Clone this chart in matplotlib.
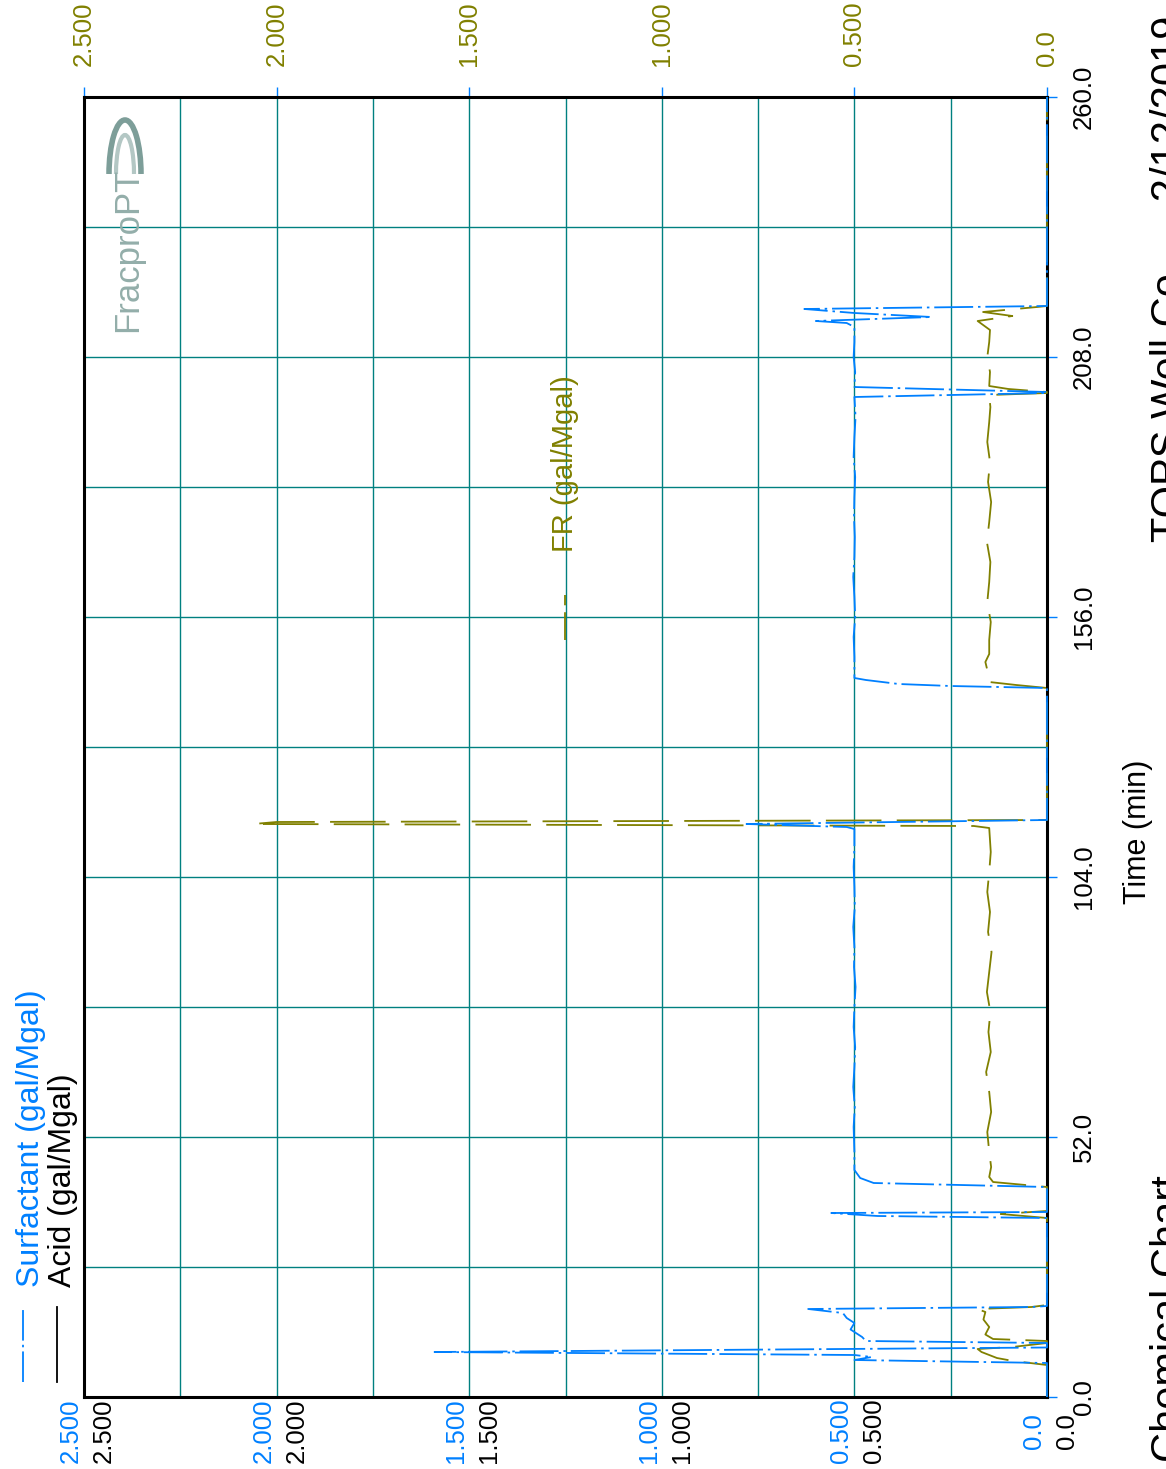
import matplotlib
matplotlib.use("Agg")
import matplotlib.pyplot as plt
import matplotlib.transforms as mtransforms
from matplotlib.lines import Line2D
from matplotlib.patches import Arc

W, H, DPI = 1166, 1469, 100
BLUE, OLIVE, GRID = "#0080ff", "#808000", "#008080"
FONT = ["Liberation Sans Narrow", "Liberation Sans", "DejaVu Sans"]

# Surfactant (gal/Mgal) vs time (min)
surf_t = [0.0, 6.8, 7.4, 8.0, 8.4, 9.0, 9.9, 10.8, 11.2, 12.0, 13.5, 14.8, 15.8, 16.8, 17.6, 18.0, 18.2,
          35.8, 36.2, 36.8, 37.0, 42.0, 42.8, 43.8, 45.4, 47.4, 49.0,
          54, 58, 62, 66, 70, 74, 78, 82, 86, 90, 94, 98, 102, 106, 110, 113.6, 114.0, 114.6, 115.4,
          141.8, 142.2, 142.6, 143.4, 143.8, 148, 152, 156, 160, 164, 168, 172, 176, 180, 184, 188, 192, 196,
          200.0, 200.8, 201.0, 202.0,
          205, 208, 211, 214.0, 214.8, 215.2, 216.0, 216.8, 217.6, 218.2, 260.0]
surf_v = [0.0, 0.0, 0.50, 0.455, 0.50, 1.59, 0.0, 0.0, 0.47, 0.48, 0.51, 0.50, 0.52, 0.53, 0.62, 0.04, 0.0,
          0.0, 0.44, 0.56, 0.0, 0.0, 0.45, 0.485, 0.50, 0.50, 0.50,
          0.502, 0.499, 0.503, 0.50, 0.498, 0.502, 0.50, 0.497, 0.501, 0.50, 0.503, 0.499, 0.50, 0.502, 0.50,
          0.50, 0.52, 0.78, 0.0,
          0.0, 0.25, 0.385, 0.47, 0.50, 0.50, 0.502, 0.498, 0.50, 0.503, 0.50, 0.499, 0.501, 0.50, 0.498,
          0.502, 0.50, 0.497,
          0.50, 0.0, 0.0, 0.50,
          0.498, 0.502, 0.50, 0.50, 0.52, 0.60, 0.30, 0.50, 0.63, 0.0, 0.0]

# FR (gal/Mgal)
fr_t = [0.0, 6.4, 7.2, 7.8, 9.0, 9.6, 10.0, 10.8, 11.2, 11.6, 12.5, 14.0, 15.5, 17.0, 17.6, 18.0, 18.4,
        35.8, 36.6, 37.2, 42.0, 43.0, 44.0, 46.0, 49.0,
        53, 57, 61, 65, 69, 73, 77, 81, 85, 89, 93, 97, 101, 105, 109, 113.8, 114.2, 114.6, 115.0, 115.4,
        141.8, 142.4, 143.0, 145.4, 147.0, 148.6, 151.4, 155, 159, 163, 167, 171, 175, 179, 183, 187, 191, 195,
        198, 200.4, 200.8, 201.0, 201.6, 202.2,
        205, 208, 211, 213.4, 215.2, 216.2, 217.0, 218.0, 218.2, 260.0]
fr_v = [0.0, 0.0, 0.088, 0.13, 0.17, 0.18, 0.09, 0.0, 0.0, 0.14, 0.16, 0.15, 0.165, 0.16, 0.18, 0.04, 0.0,
        0.0, 0.12, 0.0, 0.0, 0.14, 0.15, 0.145, 0.15,
        0.155, 0.145, 0.15, 0.158, 0.146, 0.152, 0.147, 0.156, 0.15, 0.144, 0.153, 0.148, 0.155, 0.15, 0.146,
        0.15, 0.19, 2.06, 2.0, 0.0,
        0.0, 0.08, 0.15, 0.155, 0.16, 0.15, 0.15, 0.146, 0.155, 0.15, 0.147, 0.156, 0.15, 0.145, 0.153,
        0.148, 0.155, 0.15,
        0.147, 0.15, 0.0, 0.0, 0.10, 0.15,
        0.148, 0.155, 0.15, 0.148, 0.18, 0.09, 0.166, 0.026, 0.0, 0.0]

# Acid (gal/Mgal)
acid_t = [0.0, 260.0]
acid_v = [0.0, 0.0]

time_ticks = [0, 52, 104, 156, 208, 260]
time_labels = ["0.0", "52.0", "104.0", "156.0", "208.0", "260.0"]
time_grid = [26, 78, 130, 182, 234]
conc_ticks = [0.0, 0.5, 1.0, 1.5, 2.0, 2.5]
conc_labels = ["0.0", "0.500", "1.000", "1.500", "2.000", "2.500"]
conc_grid = [0.25, 0.75, 1.25, 1.75, 2.25]

assert len(surf_t) == len(surf_v) and len(fr_t) == len(fr_v)


def fx(x):
    return x / W


def fy(y):
    return 1 - y / H


plt.rcParams["font.family"] = FONT
plt.rcParams["lines.scale_dashes"] = False

fig = plt.figure(figsize=(W / DPI, H / DPI), dpi=DPI, facecolor="white")
ax = fig.add_axes([fx(84), fy(1397), (1047 - 84) / W, (1397 - 97) / H])

ax.set_xlim(2.5, 0.0)
ax.set_ylim(0, 260)

# grid
ax.set_xticks(conc_ticks)
ax.set_xticks(conc_grid, minor=True)
ax.set_yticks(time_ticks)
ax.set_yticks(time_grid, minor=True)
ax.grid(True, which="both", color=GRID, lw=1.0)
ax.set_axisbelow(True)

ax.xaxis.tick_top()
ax.set_xticklabels(conc_labels, rotation=90, color=OLIVE, fontsize=18.5)
ax.tick_params(axis="x", which="major", direction="out", length=7, width=1, color=BLUE, pad=15)
ax.tick_params(axis="x", which="minor", length=0)
ax.yaxis.tick_right()
ax.set_yticklabels(time_labels, rotation=90, fontsize=18.5, va="center")
ax.tick_params(axis="y", which="major", direction="out", length=7, width=1, color=BLUE, pad=11)
ax.tick_params(axis="y", which="minor", length=0)
for s in ax.spines.values():
    s.set_linewidth(2.2)
    s.set_color("black")

ax.plot(acid_v, acid_t, color="black", lw=1.0, clip_on=False, zorder=3)
ax.plot(fr_v, fr_t, color=OLIVE, lw=1.3, ls=(0, (40, 11)), clip_on=False, zorder=4)
ax.plot(surf_v, surf_t, color=BLUE, lw=1.3, ls=(0, (28, 3.5, 1.8, 3.5)), clip_on=False, zorder=5)

# bottom value labels: surfactant row (blue) and acid row (black)
for val, lab in zip(conc_ticks, conc_labels):
    for dx, col in ((-13, BLUE), (20, "black")):
        tr = ax.get_xaxis_transform() + mtransforms.ScaledTranslation(dx / DPI, -34 / DPI, fig.dpi_scale_trans)
        ax.text(val, 0, lab, transform=tr, rotation=90, ha="center", va="center",
                fontsize=18.5, color=col, clip_on=False)

# legends
fig.add_artist(Line2D([fx(23), fx(23)], [fy(1382), fy(1307)], color=BLUE, lw=1.3,
                      ls=(0, (22, 3, 1.8, 3)), transform=fig.transFigure))
fig.add_artist(Line2D([fx(57), fx(57)], [fy(1382), fy(1307)], color="black", lw=1.3,
                      transform=fig.transFigure))
fig.text(fx(31), fy(1287), "Surfactant (gal/Mgal)", rotation=90, ha="center", va="bottom",
         fontsize=23, color=BLUE)
fig.text(fx(63), fy(1287), "Acid (gal/Mgal)", rotation=90, ha="center", va="bottom",
         fontsize=23, color="black")
fig.add_artist(Line2D([fx(565), fx(565)], [fy(640), fy(595)], color=OLIVE, lw=1.3,
                      ls=(0, (20, 5)), transform=fig.transFigure))
fig.text(fx(565), fy(552), "FR (gal/Mgal)", rotation=90, ha="center", va="bottom",
         fontsize=21, color=OLIVE)

fig.text(fx(1138), fy(832), "Time (min)", rotation=90, ha="center", va="center", fontsize=22)

# header texts, clipped at the right edge as in the source
fig.text(fx(1150), fy(1462), "Chemical Chart", rotation=90, ha="left", va="bottom", fontsize=30)
fig.text(fx(1150), fy(542), "TOPS Well Co.  -  2/12/2019", rotation=90, ha="left", va="bottom",
         fontsize=30)

# FracproPT watermark
fig.text(fx(128), fy(332), "FracproPT", rotation=90, ha="center", va="bottom", fontsize=25,
         color="#93aeaa")
for w, h, lw, c in ((32, 108, 4, "#7d9e99"), (18, 78, 3, "#b3c7c4")):
    fig.add_artist(Arc((fx(125), fy(174)), w / W, h / H, theta1=0, theta2=180,
                       transform=fig.transFigure, lw=lw, color=c))

fig.savefig("out.png", dpi=DPI, facecolor="white")
